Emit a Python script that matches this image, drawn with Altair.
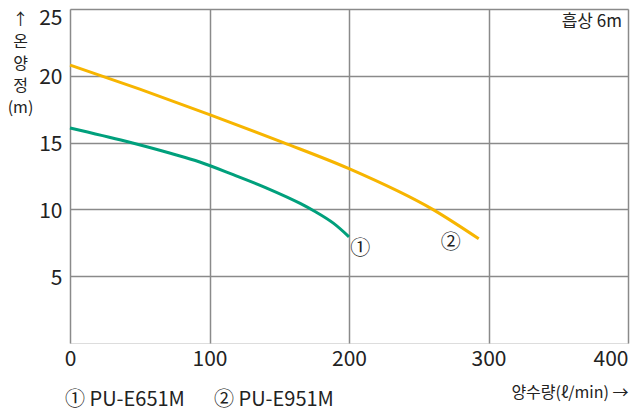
import altair as alt
import pandas as pd

# Data
flow1 = [0, 40, 72, 93, 117, 141, 165, 175, 189, 200]
head1 = [16.1, 15.1, 14.2, 13.55, 12.6, 11.6, 10.45, 9.88, 8.95, 7.95]
flow2 = [0, 50, 100, 153, 200, 260, 293]
head2 = [20.8, 19.0, 17.1, 15.0, 13.05, 10.0, 7.8]
series_names = ["PU-E651M", "PU-E951M"]
series_marks = ["①", "②"]
series_colors = ["#00A07C", "#F7B500"]
x_ticks = [0, 100, 200, 300, 400]
y_ticks = [5, 10, 15, 20, 25]
label_x = [208, 273]
label_y = [7.0, 7.5]

FONT = "Noto Sans CJK KR"

rows = []
for f, h in zip(flow1, head1):
    rows.append({"flow": f, "head": h, "series": series_names[0]})
for f, h in zip(flow2, head2):
    rows.append({"flow": f, "head": h, "series": series_names[1]})
df = pd.DataFrame(rows)

xscale = alt.Scale(domain=[0, 400], nice=False)
yscale = alt.Scale(domain=[0, 25], nice=False)

lines = alt.Chart(df).mark_line(strokeWidth=3, interpolate="monotone").encode(
    x=alt.X("flow:Q", scale=xscale,
            axis=alt.Axis(values=x_ticks, title="양수량(ℓ/min) →", grid=True,
                          domain=False, ticks=False, labelFontSize=21, labelPadding=5,
                          labelColor="#222", labelFont=FONT,
                          labelAlign={"condition": {"test": "datum.value == 400", "value": "right"}, "value": "center"},
                          gridColor="#8a8a8a", gridWidth=1.5,
                          titleFont=FONT, titleFontSize=16, titleFontWeight="normal",
                          titleColor="#222", titleAlign="right", titleBaseline="middle",
                          titleX=558, titleY=49)),
    y=alt.Y("head:Q", scale=yscale,
            axis=alt.Axis(values=y_ticks, title=["↑", "온", "양", "정", "(m)"], grid=True,
                          domain=False, ticks=False, labelFontSize=21, labelPadding=8,
                          labelColor="#222", labelFont=FONT,
                          labelBaseline="middle",
                          labelOffset={"condition": {"test": "datum.value == 25", "value": 9}, "value": 2},
                          gridColor="#8a8a8a", gridWidth=1.5,
                          titleFont=FONT, titleFontSize=16, titleFontWeight="normal",
                          titleColor="#222", titleAngle=0, titleAlign="center",
                          titleBaseline="top", titleLineHeight=22,
                          titleX=-50, titleY=2)),
    color=alt.Color("series:N", scale=alt.Scale(domain=series_names, range=series_colors), legend=None),
)

lab_df = pd.DataFrame({"x": label_x, "y": label_y, "t": series_marks})
labels = alt.Chart(lab_df).mark_text(fontSize=20, font=FONT, color="#222").encode(
    x=alt.X("x:Q", scale=xscale), y=alt.Y("y:Q", scale=yscale), text="t:N"
)

legend_df = pd.DataFrame({"t": [f"{m} {n}" for m, n in zip(series_marks, series_names)],
                          "px": [-5, 144]})
legend = alt.Chart(legend_df).mark_text(fontSize=20, font=FONT, color="#222", align="left",
                                        baseline="middle").encode(
    x=alt.X("px:Q", scale=None), y=alt.value(391), text="t:N"
)

note = alt.Chart(pd.DataFrame({"t": ["흡상 6m"]})).mark_text(
    fontSize=17, font=FONT, color="#222", align="right", baseline="middle"
).encode(x=alt.value(552), y=alt.value(13), text="t:N")

chart = alt.layer(lines, labels, legend, note).properties(
    width=558, height=334,
    autosize=alt.AutoSizeParams(type="none"),
    padding={"left": 62, "top": 1, "right": 4, "bottom": 71},
).configure_view(stroke="#111", strokeWidth=2).configure(background="white")

chart.save("out.html", embed_options={"renderer": "svg", "actions": False})
